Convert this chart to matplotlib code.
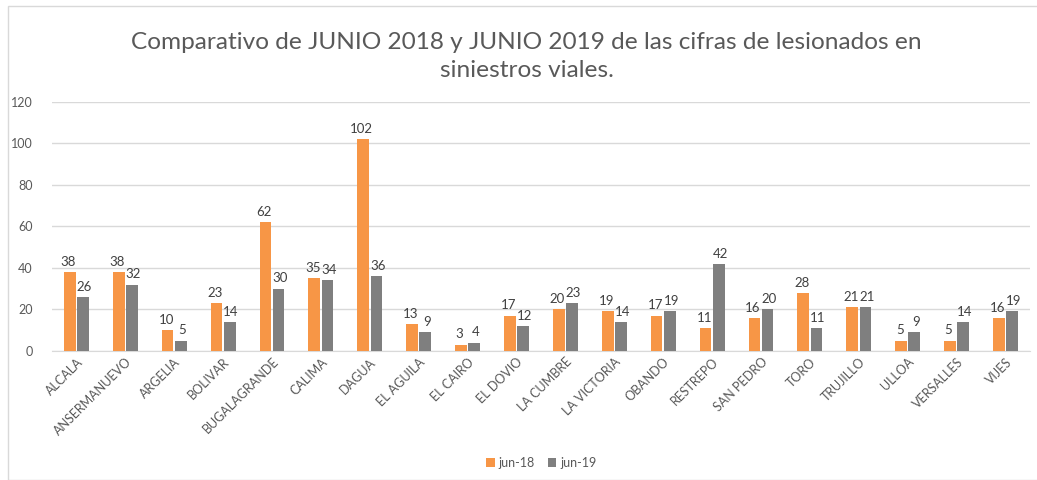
import matplotlib.pyplot as plt
import numpy as np
from matplotlib.patches import Rectangle

# Data
municipios = ['ALCALA', 'ANSERMANUEVO', 'ARGELIA', 'BOLIVAR', 'BUGALAGRANDE',
              'CALIMA', 'DAGUA', 'EL AGUILA', 'EL CAIRO', 'EL DOVIO',
              'LA CUMBRE', 'LA VICTORIA', 'OBANDO', 'RESTREPO', 'SAN PEDRO',
              'TORO', 'TRUJILLO', 'ULLOA', 'VERSALLES', 'VIJES']
jun_18 = [38, 38, 10, 23, 62, 35, 102, 13, 3, 17, 20, 19, 17, 11, 16, 28, 21, 5, 5, 16]
jun_19 = [26, 32, 5, 14, 30, 34, 36, 9, 4, 12, 23, 14, 19, 42, 20, 11, 21, 9, 14, 19]
series_names = ['jun-18', 'jun-19']
yticks = [0, 20, 40, 60, 80, 100, 120]

orange = '#F79646'
grey = '#7F7F7F'
text_grey = '#595959'

plt.rcParams['font.family'] = ['Lato', 'DejaVu Sans']

fig = plt.figure(figsize=(10.37, 4.8), dpi=100)
ax = fig.add_axes([0.0501, 0.269, 0.9431, 0.5185])

# outer chart frame
fig.patches.append(Rectangle((8 / 1037, 0), 1.0, 1 - 6 / 480, transform=fig.transFigure,
                             fill=False, edgecolor='#D9D9D9', linewidth=1))

x = np.arange(len(municipios))
w = 0.24
off = 0.135
b1 = ax.bar(x - off, jun_18, w, color=orange, label=series_names[0], zorder=3)
b2 = ax.bar(x + off, jun_19, w, color=grey, label=series_names[1], zorder=3)

# data labels, nudged apart a little so neighbours don't collide
for bars, dx in ((b1, -1), (b2, 1)):
    for rect in bars:
        h = rect.get_height()
        ax.annotate(str(int(h)), (rect.get_x() + rect.get_width() / 2, h),
                    xytext=(dx, 3), textcoords='offset points',
                    ha='center', va='bottom', fontsize=9.5, color='#404040')

ax.set_xlim(-0.5, len(municipios) - 0.5)
ax.set_ylim(0, 120)
ax.set_yticks(yticks)
ax.yaxis.grid(True, color='#D9D9D9', linewidth=1, zorder=0)
ax.set_axisbelow(True)
for s in ['top', 'right', 'left']:
    ax.spines[s].set_visible(False)
ax.spines['bottom'].set_color('#D9D9D9')
ax.tick_params(axis='both', length=0, colors=text_grey, labelsize=9)
ax.tick_params(axis='y', pad=14)
ax.set_xticks(x)
ax.set_xticklabels(municipios, rotation=45, ha='right', rotation_mode='anchor')

fig.text(0.508, 0.883, 'Comparativo de JUNIO 2018 y JUNIO 2019 de las cifras de lesionados en\nsiniestros viales.',
         ha='center', va='center', fontsize=17.6, color=text_grey, linespacing=1.4)

fig.legend(handles=[b1, b2], loc='center', bbox_to_anchor=(0.522, 0.035), ncol=2,
           frameon=False, fontsize=9, labelcolor=text_grey, handlelength=0.7,
           handleheight=0.7, handletextpad=0.3, columnspacing=1.0)

fig.savefig('out.png', dpi=100)
